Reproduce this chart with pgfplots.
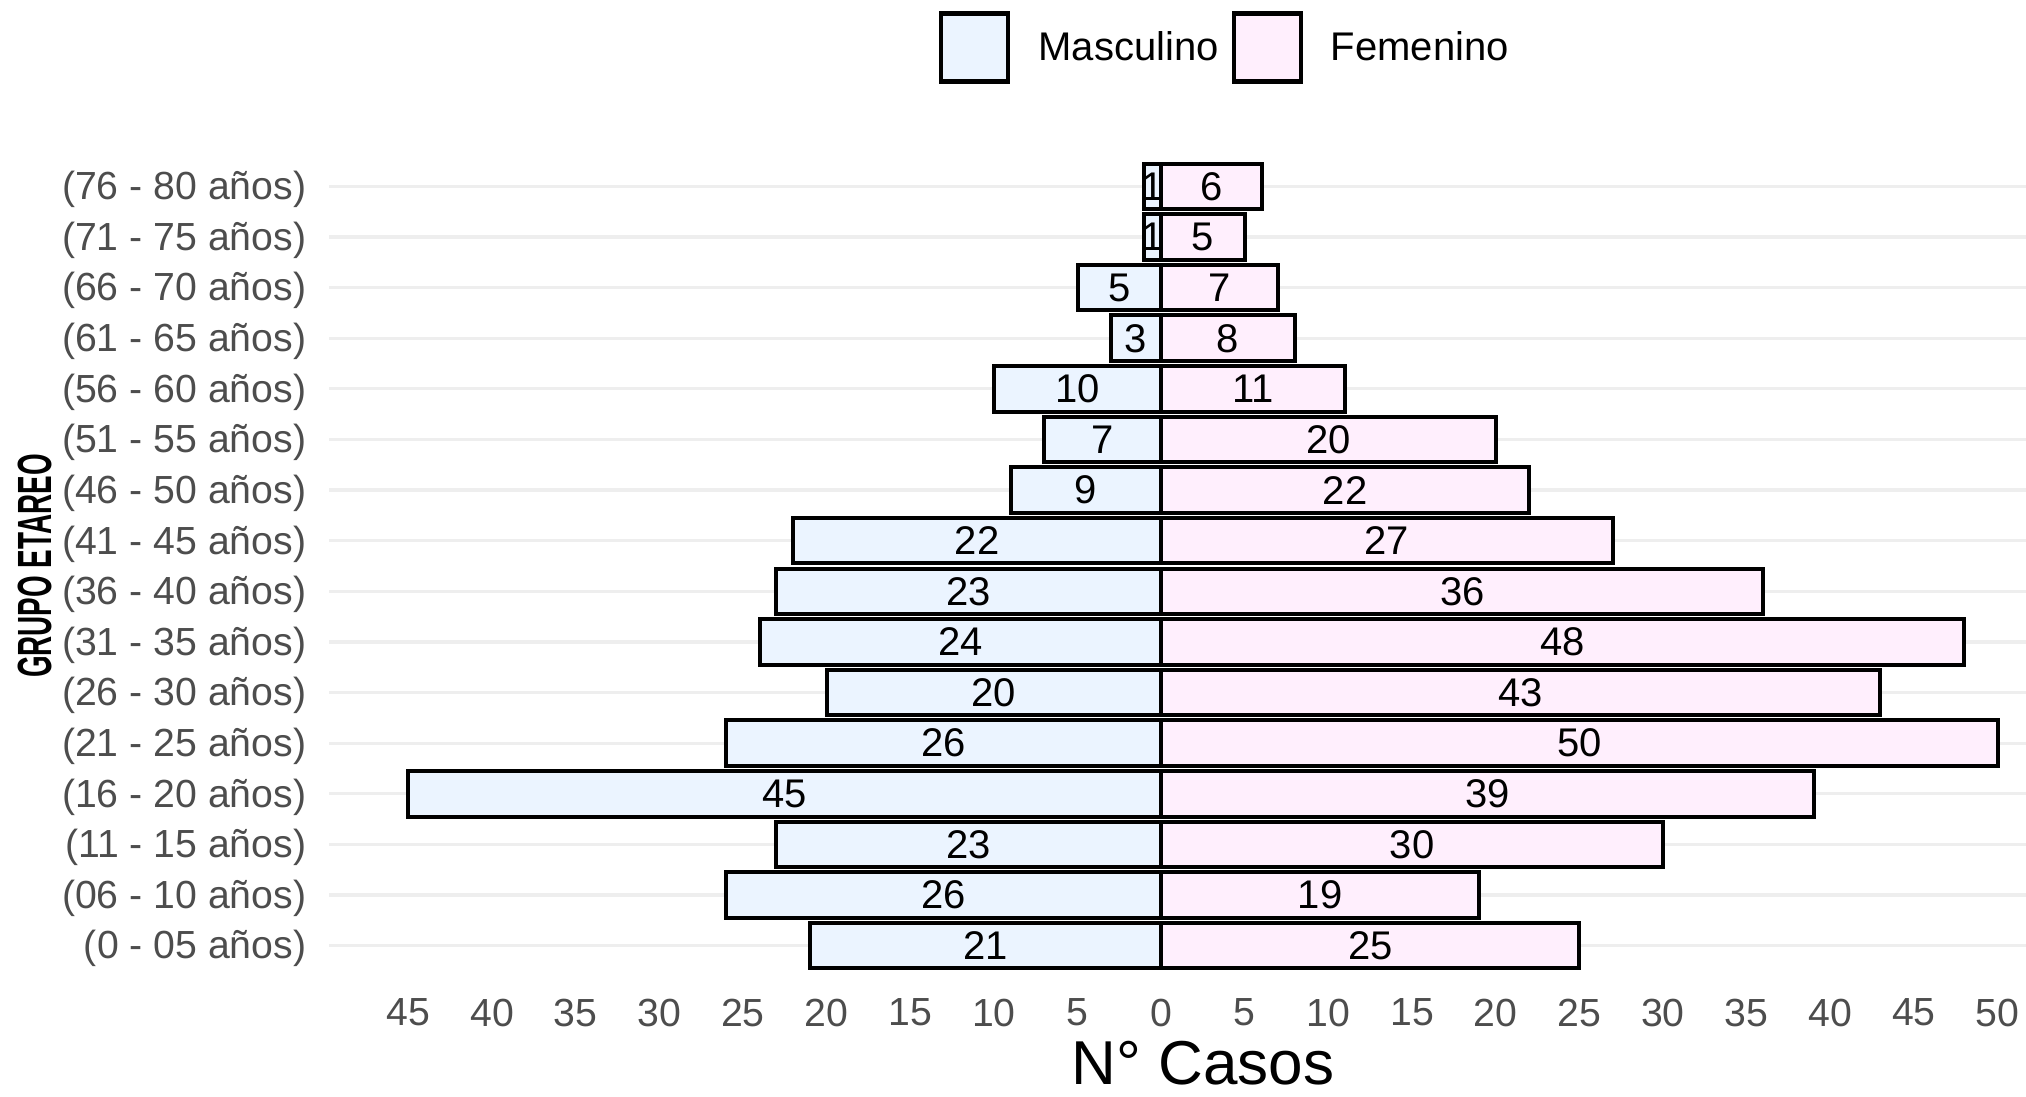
\documentclass[border=0pt]{standalone}
\usepackage{fontspec}
\setmainfont{Liberation Sans}
\usepackage{graphicx}
\usepackage{pgfplots}
\usepackage{pgfplotstable}
\pgfplotsset{compat=1.18}

\definecolor{masc}{RGB}{235,244,255}
\definecolor{fem}{RGB}{255,239,253}
\definecolor{ticktext}{RGB}{77,77,77}
\definecolor{gridc}{RGB}{238,238,238}

% pos = grupo etareo (1 = 0-05 anos), m = masculino, f = femenino
\pgfplotstableread{
pos m  f
1   21 25
2   26 19
3   23 30
4   45 39
5   26 50
6   20 43
7   24 48
8   23 36
9   22 27
10  9  22
11  7  20
12  10 11
13  3  8
14  5  7
15  1  5
16  1  6
}\casos

\begin{document}
\begin{tikzpicture}
\begin{axis}[
  at={(0,0)}, anchor=south west,
  scale only axis, width=437pt, height=205pt,
  xmin=-49.75, xmax=54.75, ymin=0.4, ymax=16.6,
  /pgf/number format/assume math mode=true,
  xtick={-45,-40,...,50},
  xticklabel={\pgfmathparse{abs(\tick)}\pgfmathprintnumber{\pgfmathresult}},
  ytick={1,...,16},
  yticklabels={{(0 - 05 años)},{(06 - 10 años)},{(11 - 15 años)},{(16 - 20 años)},
    {(21 - 25 años)},{(26 - 30 años)},{(31 - 35 años)},{(36 - 40 años)},
    {(41 - 45 años)},{(46 - 50 años)},{(51 - 55 años)},{(56 - 60 años)},
    {(61 - 65 años)},{(66 - 70 años)},{(71 - 75 años)},{(76 - 80 años)}},
  axis line style={draw=none},
  major tick length=0pt,
  tick style={draw=none},
  ymajorgrids,
  major grid style={gridc, line width=0.8pt},
  every tick label/.append style={font=\fontsize{9.8}{11}\selectfont, text=ticktext, inner sep=0pt},
  xticklabel style={yshift=-5.5pt},
  yticklabel style={xshift=-5.5pt, yshift=-0.8pt},
  xlabel={N° Casos},
  xlabel style={at={(axis description cs:0.5,-0.106)}, anchor=center,
    font=\fontsize{15.5}{15.5}\selectfont, text=black},
  ylabel={\bfseries\scalebox{0.58}[1]{GRUPO ETAREO}},
  ylabel style={at={(axis description cs:-0.1682,0.5)}, anchor=center,
    font=\fontsize{12}{12}\selectfont, text=black},
  legend columns=2,
  legend style={draw=none, fill=none,
    at={(axis description cs:0.512,1.1324)}, anchor=center,
    nodes={inner sep=0pt, font=\fontsize{10}{12}\selectfont, text=black},
    /tikz/every odd column/.append style={column sep=7pt},
    /tikz/every even column/.append style={column sep=3.25pt}},
]
\addplot[xbar, bar shift=0pt, bar width=0.9, fill=masc, draw=black, line width=1pt,
  legend image code/.code={\draw[fill=masc, draw=black, line width=1.1pt] (0pt,-8.5pt) rectangle (16.75pt,8.5pt);}]
  table[x expr=-\thisrow{m}, y=pos] {\casos};
\addlegendentry{\raisebox{-1pt}{Masculino}}
\addplot[xbar, bar shift=0pt, bar width=0.9, fill=fem, draw=black, line width=1pt,
  legend image code/.code={\draw[fill=fem, draw=black, line width=1.1pt] (0pt,-8.5pt) rectangle (16.75pt,8.5pt);}]
  table[x=f, y=pos] {\casos};
\addlegendentry{\raisebox{-1pt}{Femenino}}
% etiquetas centradas en cada barra
\addplot[draw=none, forget plot, nodes near coords, point meta=explicit symbolic,
  every node near coord/.style={anchor=center, inner sep=0pt, font=\fontsize{10}{12}\selectfont, text=black}]
  table[x expr=-\thisrow{m}/2, y=pos, meta=m] {\casos};
\addplot[draw=none, forget plot, nodes near coords, point meta=explicit symbolic,
  every node near coord/.style={anchor=center, inner sep=0pt, font=\fontsize{10}{12}\selectfont, text=black}]
  table[x expr=\thisrow{f}/2, y=pos, meta=f] {\casos};
\end{axis}
\pgfresetboundingbox
\useasboundingbox (-82.25pt,-30pt) rectangle (424.25pt,244pt);
\end{tikzpicture}
\end{document}
